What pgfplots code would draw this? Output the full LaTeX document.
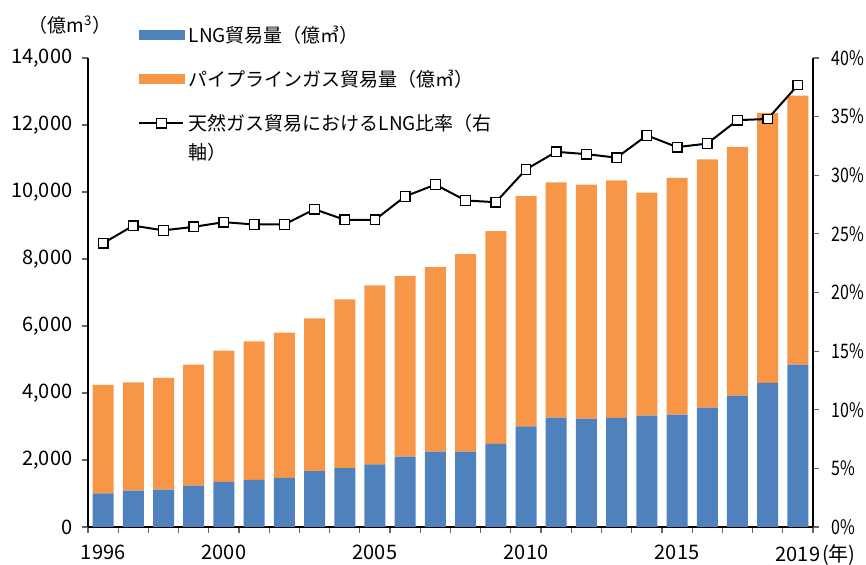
\documentclass[border=0pt]{standalone}
\usepackage{fontspec}
\setmainfont{Noto Sans CJK JP}
\usepackage{pgfplots}
\pgfplotsset{compat=1.18}
\usepackage{pgfplotstable}
\definecolor{lngblue}{HTML}{4F81BD}
\definecolor{pipeorange}{HTML}{F79646}

\pgfplotstableread{
year lng pipe ratio
1996 1000 3240 24.2
1997 1085 3235 25.7
1998 1115 3335 25.3
1999 1235 3610 25.6
2000 1350 3915 26.0
2001 1410 4130 25.8
2002 1470 4335 25.8
2003 1665 4565 27.1
2004 1760 5035 26.2
2005 1870 5345 26.2
2006 2100 5385 28.2
2007 2250 5510 29.2
2008 2250 5895 27.85
2009 2485 6350 27.7
2010 3005 6875 30.5
2011 3265 7025 32.0
2012 3235 6985 31.8
2013 3255 7095 31.5
2014 3325 6655 33.4
2015 3355 7065 32.4
2016 3560 7415 32.7
2017 3920 7425 34.7
2018 4300 8065 34.8
2019 4845 8030 37.7
}\gasdata

\pgfplotsset{
  common/.style={
    scale only axis, width=362.5pt, height=234.5pt,
    at={(44pt,-263.5pt)}, anchor=south west,
    xmin=1995.5, xmax=2019.5,
    tick align=outside, major tick length=3pt, minor tick length=3pt,
    tick style={black!60, line width=0.6pt},
    axis line style={line width=0.75pt, black},
    /pgf/number format/assume math mode=true,
    ticklabel style={font=\fontsize{10pt}{11pt}\selectfont},
  },
  barleg/.style={legend image code/.code={\fill[#1] (0pt,1.35pt) rectangle (22.5pt,5.85pt);}},
}

\begin{document}
\fontsize{9.5pt}{14.5pt}\selectfont
\begin{tikzpicture}[x=1pt,y=1pt]
\useasboundingbox (0,0) rectangle (433,-282.5);
\begin{axis}[common,
  ybar stacked, bar width=10.5pt,
  ymin=0, ymax=14000, ytick={0,2000,...,14000},
  scaled y ticks=false,
  yticklabel style={/pgf/number format/1000 sep={,}, xshift=-1.5pt},
  xticklabel style={yshift=-5.5pt},
  axis y line*=left, axis x line*=bottom,
  xtick={1995.5,1996.5,...,2019.5}, xticklabels={},
  extra x ticks={1996,2000,2005,2010,2015,2019},
  extra x tick labels={1996,2000,2005,2010,2015,2019\rlap{\kern1pt(年)}},
  extra x tick style={major tick length=0pt},
]
\addplot[fill=lngblue, draw=none] table[x=year,y=lng]{\gasdata};
\addplot[fill=pipeorange, draw=none] table[x=year,y=pipe]{\gasdata};
\end{axis}
\begin{axis}[common,
  ymin=0, ymax=40, ytick={0,5,...,40},
  yticklabel={\scalebox{0.8}[1]{\pgfmathprintnumber{\tick}\%}},
  yticklabel style={xshift=3pt},
  axis y line*=right, axis x line=none,
  legend image code/.code={\draw[mark repeat=2,mark phase=2,#1] plot coordinates {(0pt,3.6pt) (11pt,3.6pt) (22pt,3.6pt)};},
  legend style={at={(axis description cs:0,1)}, anchor=north west, xshift=25pt, yshift=15.5pt,
    draw=none, fill=none, inner sep=0pt, row sep=12.5pt, column sep=2pt,
    cells={anchor=base west}, nodes={inner sep=0pt, text height=7.5pt, text depth=2pt},
    font=\fontsize{9.5pt}{14.5pt}\selectfont},
]
\addlegendimage{barleg=lngblue}
\addlegendentry{LNG貿易量（億㎥）}
\addlegendimage{barleg=pipeorange}
\addlegendentry{パイプラインガス貿易量（億㎥）}
\addplot[black, line width=1pt, mark=square*, mark size=2.4pt,
  mark options={fill=white, draw=black, line width=0.65pt, solid}]
  table[x=year,y=ratio]{\gasdata};
\addlegendentry{\begin{tabular}[t]{@{}l@{}}天然ガス貿易におけるLNG比率（右\\軸）\end{tabular}}
\end{axis}
\node at (35pt,-12.5pt) {（億m\textsuperscript{3}）};
\end{tikzpicture}
\end{document}
